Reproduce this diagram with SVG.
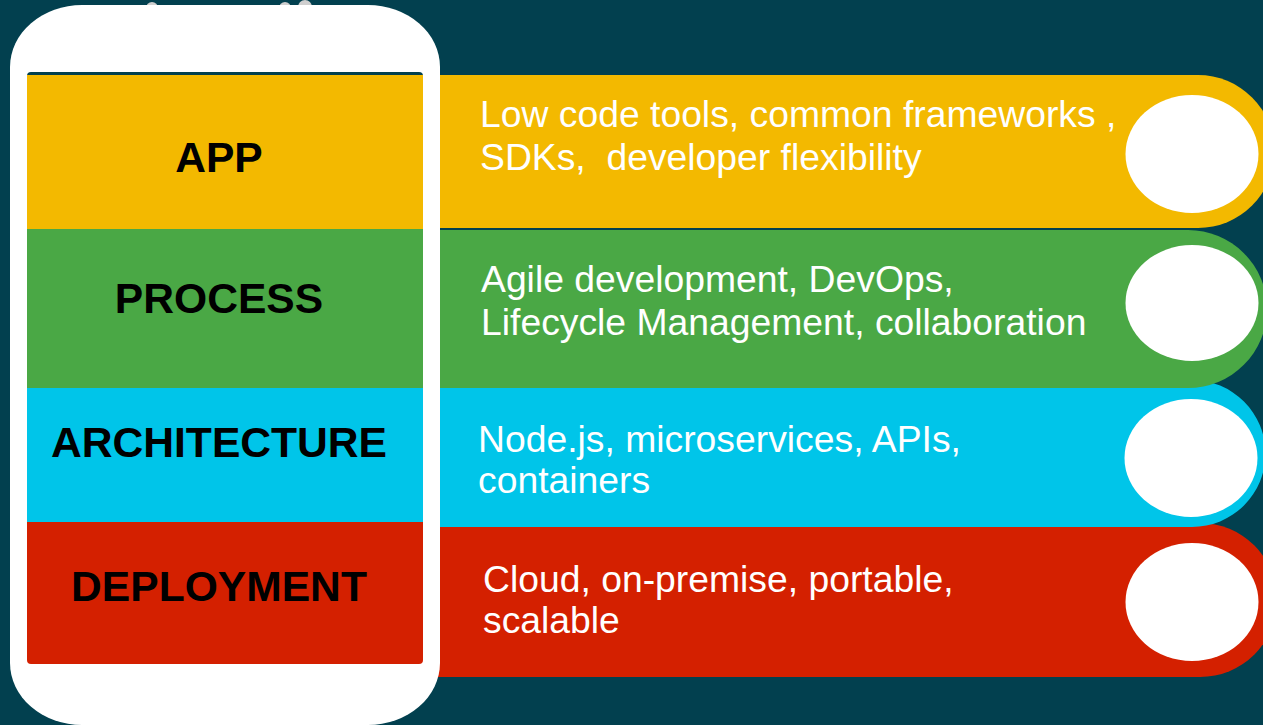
<svg xmlns="http://www.w3.org/2000/svg" width="1263" height="725" viewBox="0 0 1263 725">
<style>
.lbl{font-family:"Liberation Sans",Arial,sans-serif;font-weight:bold;font-size:42.6px;fill:#000;text-anchor:middle}
.desc{font-family:"Liberation Sans",Arial,sans-serif;font-size:37.3px;fill:#fff}
.hole{fill:#fff}
</style>
<rect width="1263" height="725" fill="#02404F"/>
<g id="bands">
<path d="M430,523 H1200 A77,77 0 0 1 1200,677 H430 Z" fill="#D42000"/>
<path d="M430,380 H1192 A73.5,73.5 0 0 1 1192,527 H430 Z" fill="#00C5E9"/>
<path d="M430,230 H1188 A79,79 0 0 1 1188,388 H430 Z" fill="#4AA845"/>
<path d="M430,75 H1198 A76.5,76.5 0 0 1 1198,228 H430 Z" fill="#F3B900"/>
</g>
<g id="phone">
<circle cx="152" cy="8" r="6" fill="#cfcfcf"/>
<circle cx="285" cy="8" r="6" fill="#cfcfcf"/>
<circle cx="305" cy="7" r="7" fill="#cfcfcf"/>
<rect x="10" y="5" width="430" height="720" rx="72" ry="62" fill="#fff"/>
<rect x="27" y="72" width="396" height="10" rx="4" fill="#02404F"/>
</g>
<g id="app">
<rect x="27" y="75" width="396" height="154" fill="#F3B900"/>
<text class="lbl" x="219" y="172">APP</text>
<ellipse class="hole" cx="1192" cy="154" rx="66.5" ry="59"/>
<text class="desc" x="480" y="127">Low code tools, common frameworks ,</text>
<text class="desc" x="480" y="170" xml:space="preserve">SDKs,  developer flexibility</text>
</g>
<g id="process">
<rect x="27" y="229" width="396" height="159" fill="#4AA845"/>
<text class="lbl" x="219" y="313">PROCESS</text>
<ellipse class="hole" cx="1192" cy="303" rx="66.5" ry="58"/>
<text class="desc" x="481" y="292">Agile development, DevOps,</text>
<text class="desc" x="481" y="335">Lifecycle Management, collaboration</text>
</g>
<g id="architecture">
<rect x="27" y="388" width="396" height="134" fill="#00C5E9"/>
<text class="lbl" x="219" y="457">ARCHITECTURE</text>
<ellipse class="hole" cx="1191" cy="458" rx="66.5" ry="59"/>
<text class="desc" x="478" y="452">Node.js, microservices, APIs,</text>
<text class="desc" x="478" y="493">containers</text>
</g>
<g id="deployment">
<path d="M27,522 H423 V660 A4,4 0 0 1 419,664 H31 A4,4 0 0 1 27,660 Z" fill="#D42000"/>
<text class="lbl" x="219" y="601">DEPLOYMENT</text>
<ellipse class="hole" cx="1192" cy="602" rx="66.5" ry="59"/>
<text class="desc" x="483" y="592">Cloud, on-premise, portable,</text>
<text class="desc" x="483" y="633">scalable</text>
</g>
<g id="connectors"/>
</svg>
